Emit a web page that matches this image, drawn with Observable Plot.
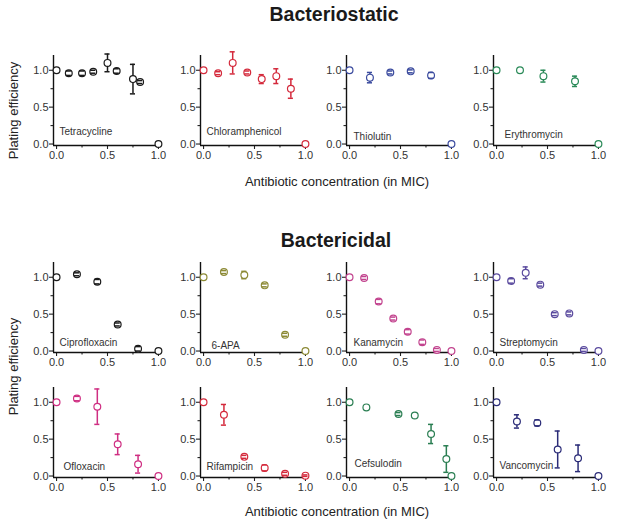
<!DOCTYPE html>
<html>
<head>
<meta charset="utf-8">
<script src="https://cdn.jsdelivr.net/npm/d3@7"></script>
<script src="https://cdn.jsdelivr.net/npm/@observablehq/plot@0.6"></script>
<style>
  html, body { margin: 0; padding: 0; background: #fff; }
  #wrap { position: relative; width: 617px; height: 523px; overflow: hidden; font-family: "Liberation Sans", Arial, sans-serif; color: #222; }
  .lbl { position: absolute; white-space: nowrap; line-height: 1; display: flex; justify-content: center; }
  .panel { position: absolute; }
</style>
</head>
<body>
<div id="wrap"></div>
<script>
// ---------------- data ----------------
const groupTitles = ["Bacteriostatic", "Bactericidal"];
const yLabel = "Plating efficiency";
const xLabel = "Antibiotic concentration (in MIC)";
const xTicks = [0, 0.5, 1];
const yTicks = [0, 0.5, 1];
const xMinorTicks = [0.25, 0.75];
const yMinorTicks = [0.25, 0.75];

const names = [
  "Tetracycline", "Chloramphenicol", "Thiolutin", "Erythromycin",
  "Ciprofloxacin", "6-APA", "Kanamycin", "Streptomycin",
  "Ofloxacin", "Rifampicin", "Cefsulodin", "Vancomycin"
];

const concentrations = [
  [0, 0.12, 0.25, 0.36, 0.50, 0.59, 0.75, 0.82, 1.0],
  [0, 0.143, 0.286, 0.429, 0.571, 0.714, 0.857, 1.0],
  [0, 0.2, 0.4, 0.6, 0.8, 1.0],
  [0, 0.23, 0.46, 0.77, 1.0],
  [0, 0.2, 0.4, 0.6, 0.8, 1.0],
  [0, 0.2, 0.4, 0.6, 0.8, 1.0],
  [0, 0.143, 0.286, 0.429, 0.571, 0.714, 0.857, 1.0],
  [0, 0.143, 0.286, 0.429, 0.571, 0.714, 0.857, 1.0],
  [0, 0.2, 0.4, 0.6, 0.8, 1.0],
  [0, 0.2, 0.4, 0.6, 0.8, 1.0],
  [0, 0.165, 0.48, 0.64, 0.80, 0.95, 1.0],
  [0, 0.2, 0.4, 0.6, 0.8, 1.0]
];

const efficiency = [
  [1.0, 0.96, 0.96, 0.98, 1.10, 0.99, 0.88, 0.84, 0.0],
  [1.0, 0.96, 1.10, 0.97, 0.88, 0.92, 0.75, 0.0],
  [1.0, 0.90, 0.97, 0.985, 0.93, 0.0],
  [1.0, 1.0, 0.92, 0.85, 0.0],
  [1.0, 1.04, 0.94, 0.36, 0.03, 0.0],
  [1.0, 1.07, 1.03, 0.89, 0.22, 0.0],
  [1.0, 0.99, 0.67, 0.44, 0.26, 0.12, 0.015, 0.0],
  [1.0, 0.95, 1.06, 0.90, 0.50, 0.51, 0.015, 0.0],
  [1.0, 1.05, 0.94, 0.43, 0.16, 0.0],
  [1.0, 0.83, 0.26, 0.11, 0.03, 0.005],
  [1.0, 0.93, 0.84, 0.82, 0.57, 0.23, 0.0],
  [1.0, 0.74, 0.72, 0.36, 0.24, 0.0]
];

const errors = [
  [0, 0.03, 0.03, 0.02, 0.12, 0.03, 0.20, 0.02, 0],
  [0, 0.02, 0.15, 0.02, 0.06, 0.10, 0.13, 0],
  [0, 0.07, 0.02, 0.02, 0.04, 0],
  [0, 0, 0.08, 0.07, 0],
  [0, 0.02, 0.03, 0.02, 0.03, 0],
  [0, 0.02, 0.05, 0.02, 0.02, 0],
  [0, 0.02, 0.03, 0.02, 0.03, 0.03, 0.02, 0],
  [0, 0.03, 0.08, 0.02, 0.02, 0.02, 0.02, 0],
  [0, 0.03, 0.24, 0.14, 0.12, 0],
  [0, 0.14, 0.02, 0.04, 0.02, 0.01],
  [0, 0, 0.02, 0, 0.13, 0.18, 0],
  [0, 0.09, 0.04, 0.25, 0.18, 0]
];

// ---------------- styles & layout ----------------
const colors = [
  "#1a1a1a", "#d42a3c", "#3a4a9e", "#2a8a58",
  "#1a1a1a", "#8c8a35", "#c2438e", "#5a4a9e",
  "#cf2e82", "#d42a3c", "#2a7e52", "#2b2c78"
];
const panelLeft = [23, 170, 316, 463];
const rowTop = [50, 257, 382];
const labelDx = [6, 6, 7, 11, 6, 11, 7, 6, 10, 6, 8, 6];
const labelUp = [12, 12, 7, 9, 8, 5, 8, 8, 9, 9, 12, 10];

const wrap = document.getElementById("wrap");
function addLabel(text, css) {
  const d = document.createElement("div");
  d.className = "lbl";
  d.textContent = text;
  Object.assign(d.style, css);
  wrap.appendChild(d);
  return d;
}

// Titles
addLabel(groupTitles[0], {left: "234px", width: "200px", top: "4.5px", fontSize: "19.5px", fontWeight: "bold", color: "#1a1a1a"});
addLabel(groupTitles[1], {left: "236px", width: "200px", top: "230.5px", fontSize: "19.5px", fontWeight: "bold", color: "#1a1a1a"});
// x labels
addLabel(xLabel, {left: "237px", width: "200px", top: "175px", fontSize: "13px", color: "#222"});
addLabel(xLabel, {left: "237px", width: "200px", top: "505px", fontSize: "13px", color: "#222"});
// y labels (rotated)
for (const cy of [110, 366]) {
  addLabel(yLabel, {left: (13 - 100) + "px", width: "200px", top: (cy - 6.5) + "px", height: "13px", fontSize: "13px", color: "#222", transform: "rotate(-90deg)", transformOrigin: "50% 50%"});
}

const fmt = d3.format(".1f");
names.forEach((name, i) => {
  const row = Math.floor(i / 4), col = i % 4;
  const data = concentrations[i].map((x, j) => ({x, y: efficiency[i][j], e: errors[i][j]}));
  const withErr = data.filter(d => d.e > 0);
  const c = colors[i];
  const capHalf = 0.025;
  const chart = Plot.plot({
    width: 147, height: 118,
    marginLeft: 30, marginRight: 9, marginTop: 5, marginBottom: 23,
    style: {fontFamily: "Liberation Sans, Arial, sans-serif", fontSize: "11px", color: "#222", background: "transparent", overflow: "visible"},
    x: {domain: [-0.03, 1.03], label: null},
    y: {domain: [-0.02, 1.2], label: null},
    marks: [
      Plot.axisX({ticks: xTicks, tickFormat: fmt, tickSize: 4, tickPadding: 2, stroke: "#222", strokeWidth: 1.1, fill: "#333", fontSize: 11, label: null}),
      Plot.axisX({ticks: xMinorTicks, tickSize: 2.5, text: null, stroke: "#222", strokeWidth: 1.1, label: null}),
      Plot.axisY({ticks: yTicks, tickFormat: fmt, tickSize: 4, tickPadding: 1, stroke: "#222", strokeWidth: 1.1, fill: "#333", fontSize: 11, label: null}),
      Plot.axisY({ticks: yMinorTicks, tickSize: 2.5, text: null, stroke: "#222", strokeWidth: 1.1, label: null}),
      Plot.ruleX([-0.03], {stroke: "#111", strokeWidth: 1.4}),
      Plot.ruleY([-0.02], {stroke: "#111", strokeWidth: 1.4}),
      Plot.ruleX(withErr, {x: "x", y1: d => d.y - d.e, y2: d => d.y + d.e, stroke: c, strokeWidth: 1.5}),
      Plot.dot(data, {x: "x", y: "y", r: 3.4, stroke: c, fill: "white", strokeWidth: 1.2}),
      Plot.ruleY(withErr, {y: d => d.y + d.e, x1: d => d.x - capHalf, x2: d => d.x + capHalf, stroke: c, strokeWidth: 1.5}),
      Plot.ruleY(withErr, {y: d => d.y - d.e, x1: d => d.x - capHalf, x2: d => d.x + capHalf, stroke: c, strokeWidth: 1.5}),
      Plot.text([name], {frameAnchor: "bottom-left", textAnchor: "start", lineAnchor: "middle", dx: labelDx[i], dy: -(labelUp[i] + 1.5), fontSize: 10, fill: "#333"})
    ]
  });
  const holder = document.createElement("div");
  holder.className = "panel";
  holder.style.left = panelLeft[col] + "px";
  holder.style.top = rowTop[row] + "px";
  holder.appendChild(chart);
  wrap.appendChild(holder);
});
</script>
</body>
</html>
